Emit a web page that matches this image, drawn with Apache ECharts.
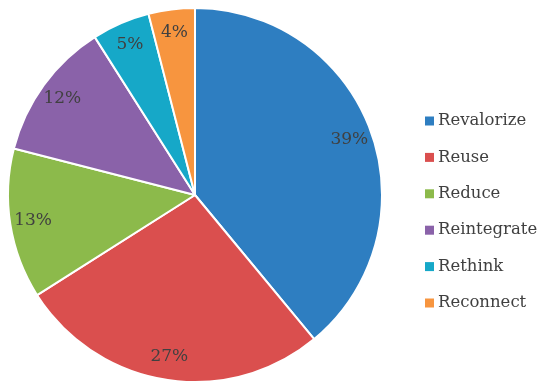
<!DOCTYPE html>
<html><head><meta charset="utf-8">
<script src="https://cdn.jsdelivr.net/npm/echarts@6/dist/echarts.min.js"></script>
<style>html,body{margin:0;padding:0;background:#fff}#c{width:550px;height:390px}</style>
</head><body><div id="c"></div>
<script>
const categories = ['Revalorize','Reuse','Reduce','Reintegrate','Rethink','Reconnect'];
const values = [39, 27, 13, 12, 5, 4];
const colors = ['#2E7EC1','#DA4F4E','#8CBA4B','#8A62A9','#16A8C8','#F7953F'];
const data = categories.map((n,i)=>({name:n, value:values[i], itemStyle:{color:colors[i]}}));
const font = '"DejaVu Serif", serif';
const chart = echarts.init(document.getElementById('c'));
chart.setOption({
  animation:false,
  legend:{
    orient:'vertical', left:420, top:107, itemWidth:9, itemHeight:9, itemGap:18.4,
    icon:'rect', data:categories, itemStyle:{borderWidth:0},
    textStyle:{fontFamily:font, fontSize:16.5, lineHeight:18, color:'#404040', padding:[0,0,0,-1]}
  },
  series:[{
    type:'pie', center:[195,195], radius:[0,187], startAngle:90, clockwise:true,
    data:data, label:{show:false}, labelLine:{show:false},
    itemStyle:{borderColor:'#fff', borderWidth:2}, silent:true
  },{
    type:'pie', center:[195,195], radius:[135,187], startAngle:90, clockwise:true,
    data:data.map(d=>({name:d.name,value:d.value})),
    itemStyle:{color:'rgba(0,0,0,0)'}, silent:true, legendHoverLink:false,
    label:{show:true, position:'inside', formatter:'{c}%', fontFamily:font, fontSize:17, color:'#404040'},
    labelLine:{show:false}
  }]
});
</script></body></html>
